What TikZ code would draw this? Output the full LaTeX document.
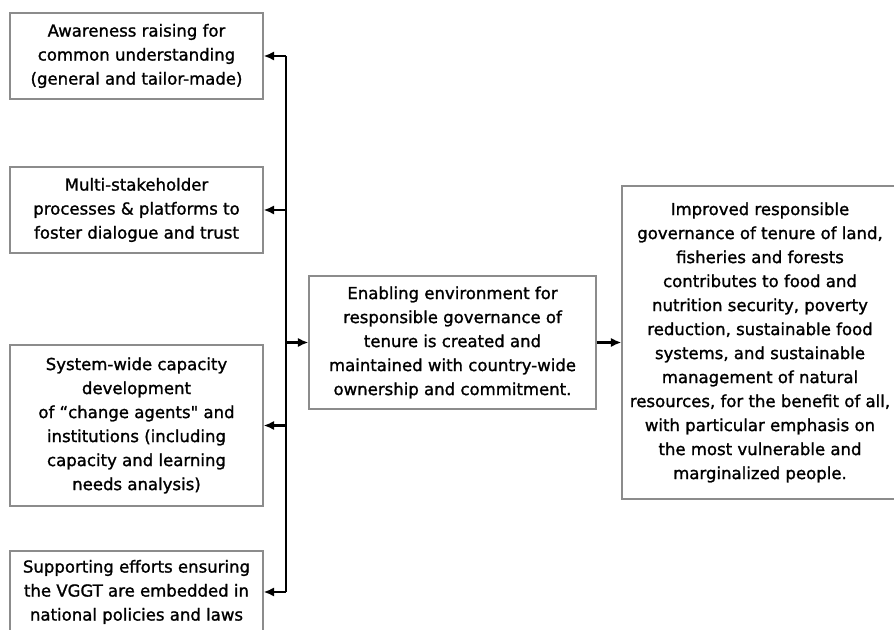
\documentclass[tikz,border=0pt]{standalone}
\usepackage{fontspec}
\setmainfont{DejaVu Sans}
\newfontfamily\chartfont[FakeBold=1.3]{DejaVu Sans}
\usepackage{xcolor}
\definecolor{boxgray}{RGB}{140,140,140}
\usepackage{tikz}
\usetikzlibrary{arrows.meta, positioning, calc}

\begin{document}
\begin{tikzpicture}[x=0.75pt, y=-0.75pt,
    box/.style={draw=boxgray, line width=0.8pt, align=center, inner sep=2pt,
                font=\chartfont\fontsize{12.4}{18}\selectfont},
    leftbox/.style={box, minimum width=253*0.75pt},
    feed/.style={-{Latex[length=8pt, width=7pt]}, line width=1.8pt, black}]
  % Frame of the picture
  \useasboundingbox (0,0) rectangle (894,630);

  % Activity boxes (left column)
  \node[leftbox, minimum height=86*0.75pt] (aware) at (136.5,56)
    {Awareness raising for\\common understanding\\(general and tailor-made)};
  \node[leftbox, minimum height=86*0.75pt] (stake) at (136.5,210)
    {Multi-stakeholder\\processes \& platforms to\\foster dialogue and trust};
  \node[leftbox, minimum height=161*0.75pt] (capdev) at (136.5,425.5)
    {System-wide capacity\\development\\of “change agents" and\\institutions (including\\capacity and learning\\needs analysis)};
  \node[leftbox, minimum height=82*0.75pt] (vggt) at (136.5,592)
    {Supporting efforts ensuring\\the VGGT are embedded in\\national policies and laws};

  % Outcome and impact boxes
  \node[box, minimum width=287*0.75pt, minimum height=133*0.75pt] (enable) at (452.5,342.5)
    {Enabling environment for\\responsible governance of\\tenure is created and\\maintained with country-wide\\ownership and commitment.};
  \node[box, minimum width=276*0.75pt, minimum height=313*0.75pt] (impact) at (760,342.5)
    {Improved responsible\\governance of tenure of land,\\fisheries and forests\\contributes to food and\\nutrition security, poverty\\reduction, sustainable food\\systems, and sustainable\\management of natural\\resources, for the benefit of all,\\with particular emphasis on\\the most vulnerable and\\marginalized people.};

  % Vertical bus
  \coordinate (bus) at (286,0);
  \draw[line width=2.2pt] (bus |- aware.east) -- (bus |- vggt.east);

  % Arrows from the bus
  \draw[feed] (bus |- aware.east) -- (aware.east);
  \draw[feed] (bus |- stake.east) -- (stake.east);
  \draw[feed] (bus |- capdev.east) -- (capdev.east);
  \draw[feed] (bus |- vggt.east) -- (vggt.east);
  \draw[feed] (bus |- enable.west) -- (enable.west);
  \draw[feed] (enable.east) -- (impact.west);
\end{tikzpicture}
\end{document}
